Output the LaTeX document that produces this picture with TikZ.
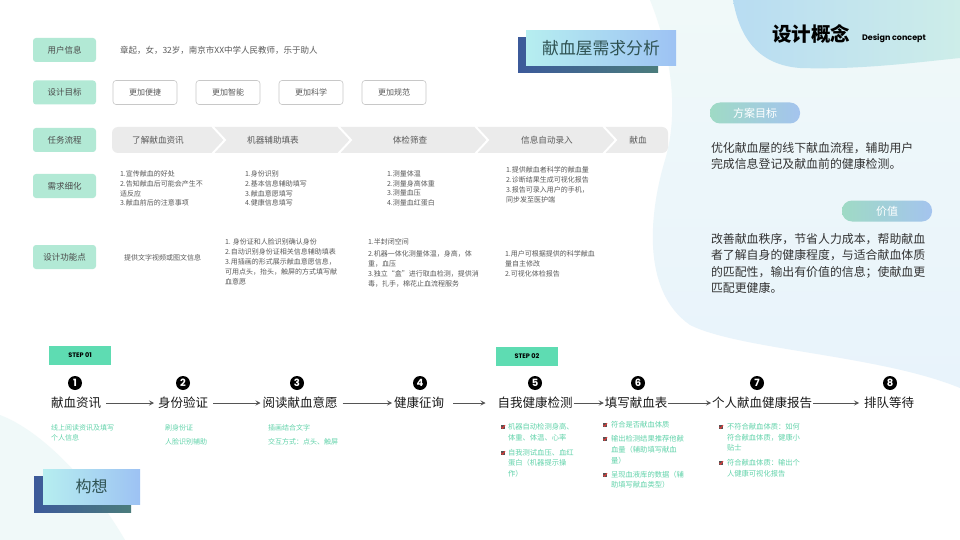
\documentclass[tikz,border=0pt]{standalone}
\usepackage{fontspec}
\setmainfont{Noto Sans CJK SC}
\newfontfamily\enfont{Poppins}
\usetikzlibrary{positioning, arrows.meta, calc}

\definecolor{tagGreen}{HTML}{B2E9D5}
\definecolor{tagText}{HTML}{4A4A4A}
\definecolor{bodyGray}{HTML}{5A5A5A}
\definecolor{goalLine}{HTML}{C8C8C8}
\definecolor{barGray}{HTML}{EBEBEB}
\definecolor{blobTop}{HTML}{F0F9F9}
\definecolor{blobBottom}{HTML}{E8F3FB}
\definecolor{blobLeft}{HTML}{B8DCF2}
\definecolor{blobRight}{HTML}{CDEDE9}
\definecolor{titleLeft}{HTML}{B6EEF0}
\definecolor{titleRight}{HTML}{9DC2F3}
\definecolor{shadowLeft}{HTML}{3C5A9A}
\definecolor{shadowRight}{HTML}{4B7C7C}
\definecolor{titleText}{HTML}{2F5252}
\definecolor{pillGreen}{HTML}{9FDAC5}
\definecolor{pillBlue}{HTML}{A4C4EE}
\definecolor{stepGreen}{HTML}{5EDCB2}
\definecolor{subGreen}{HTML}{62D3AA}
\definecolor{arrowGray}{HTML}{555555}
\definecolor{chkRed}{HTML}{E03A3A}

\tikzset{
  chk/.pic={
    \fill[arrowGray] (-2.4,-2.4) rectangle (2.4,2.4);
    \draw[chkRed, line width=0.9pt] (-1.6,-0.1) -- (-0.4,1.3) -- (2.0,-1.8);
  }
}

\begin{document}
\begin{tikzpicture}[
    x=1pt, y=-1pt,
    every node/.style={inner sep=0pt, outer sep=0pt},
    tag/.style={rounded corners=3pt, fill=tagGreen, minimum width=63pt, minimum height=24pt, font=\fontsize{8.5}{10}\selectfont, text=tagText},
    goal/.style={rounded corners=3pt, draw=goalLine, line width=0.6pt, fill=white, minimum width=64pt, minimum height=24pt, font=\fontsize{8}{10}\selectfont, text=bodyGray},
    flowtxt/.style={font=\fontsize{8.6}{10}\selectfont, text=bodyGray},
    note/.style={anchor=north west, align=left, font=\fontsize{7}{9.7}\selectfont, text=bodyGray},
    para/.style={anchor=north west, align=left, font=\fontsize{11.9}{16.3}\selectfont, text=black!80},
    pill/.style={rounded corners=10pt, left color=pillGreen, right color=pillBlue, minimum width=90pt, minimum height=21pt, font=\fontsize{11}{12}\selectfont, text=white},
    stepbox/.style={fill=stepGreen, minimum width=62pt, minimum height=19pt, font=\enfont\bfseries\fontsize{6.5}{7}\selectfont},
    num/.style={circle, fill=black, text=white, minimum size=14pt, font=\enfont\bfseries\fontsize{10}{10}\selectfont},
    stepname/.style={font=\fontsize{12.5}{13}\selectfont, text=black!90, inner sep=1pt},
    sub/.style={anchor=north west, align=left, font=\fontsize{7}{9.5}\selectfont, text=subGreen},
    subb/.style={anchor=north west, align=left, font=\fontsize{7.3}{10.5}\selectfont, text=subGreen},
    flowarrow/.style={-{Stealth[length=5pt, width=5pt, inset=2pt]}, arrowGray, line width=0.9pt}
  ]

  \useasboundingbox (0,0) rectangle (960,540);
  \fill[white] (0,0) rectangle (960,540);

  % background shapes
  \shade[top color=blobTop, bottom color=blobBottom] (650,0) .. controls (670,50) and (680,110) .. (665,160)
    .. controls (650,210) and (640,290) .. (690,325) .. controls (740,350) and (880,355) .. (960,388) -- (960,0) -- cycle;
  \shade[left color=blobLeft, right color=blobRight] (733,0) .. controls (740,40) and (760,65) .. (800,68)
    .. controls (860,70) and (920,62) .. (960,58) -- (960,0) -- cycle;
  \fill[blobTop] (0,415) .. controls (40,430) and (90,480) .. (125,540) -- (0,540) -- cycle;

  % title
  \node[minimum width=140pt, minimum height=35pt, left color=shadowLeft, right color=shadowRight] (titleShadow) at (588,55.5) {};
  \node[minimum width=150pt, minimum height=35pt, left color=titleLeft, right color=titleRight, font=\fontsize{16.8}{17}\selectfont, text=titleText] (title) at (601,48.5) {献血屋需求分析};

  % row labels
  \node[tag] (uinfo) at (64.5,50) {用户信息};
  \node[tag] (goals) at (64.5,92.5) {设计目标};
  \node[tag] (flow) at (64.5,140) {任务流程};
  \node[tag] (needs) at (64.5,186) {需求细化};
  \node[tag] (funcs) at (64.5,257) {设计功能点};

  \node[anchor=west, font=\fontsize{8.5}{10}\selectfont, text=bodyGray] (uinfoTxt) at (120,50) {章起，女，32岁，南京市XX中学人民教师，乐于助人};

  % design goals
  \node[goal, right=17pt of goals] (g1) {更加便捷};
  \node[goal, right=19pt of g1] (g2) {更加智能};
  \node[goal, right=19pt of g2] (g3) {更加科学};
  \node[goal, right=19pt of g3] (g4) {更加规范};

  % task flow bar
  \fill[barGray, rounded corners=6pt] (112,127) rectangle (668,153);
  \foreach \x in {212,338,475,603}
    \draw[white, line width=2pt] (\x,126) -- (\x+13,140) -- (\x,154);
  \node[flowtxt] (f1) at (158,140) {了解献血资讯};
  \node[flowtxt] (f2) at (273,140) {机器辅助填表};
  \node[flowtxt] (f3) at (410,140) {体检筛查};
  \node[flowtxt] (f4) at (547,140) {信息自动录入};
  \node[flowtxt] (f5) at (638,140) {献血};

  % needs
  \node[note] (n1) at (120,170.7) {1.宣传献血的好处\\2.告知献血后可能会产生不\\适反应\\3.献血前后的注意事项};
  \node[note] (n2) at (245,170.7) {1.身份识别\\2.基本信息辅助填写\\3.献血意愿填写\\4.健康信息填写};
  \node[note] (n3) at (387,170.7) {1.测量体温\\2.测量身高体重\\3.测量血压\\4.测量血红蛋白};
  \node[note, font=\fontsize{7}{10}\selectfont] (n4) at (506,166.7) {1.提供献血者科学的献血量\\2.诊断结果生成可视化报告\\3.报告可录入用户的手机，\\同步发至医护端};

  % functions
  \node[note, anchor=west] (p1) at (124,258) {提供文字视频或图文信息};
  \node[note, font=\fontsize{7}{10.1}\selectfont] (p2) at (225,238.5) {1. 身份证和人脸识别确认身份\\2.自动识别身份证相关信息辅助填表\\3.用插画的形式展示献血意愿信息，\\可用点头，抬头，触屏的方式填写献\\血意愿};
  \node[note, font=\fontsize{7}{10}\selectfont] (p3) at (368,238.5) {1.半封闭空间\\[2.5pt]2.机器一体化测量体温，身高，体\\重，血压\\3.独立“盒”进行取血检测，提供消\\毒，扎手，棉花止血流程服务};
  \node[note, font=\fontsize{7}{10}\selectfont] (p4) at (505,250.8) {1.用户可根据提供的科学献血\\量自主修改\\2.可视化体检报告};

  % design concept
  \node[font=\fontsize{19.5}{20}\selectfont\bfseries] (concept) at (811,34) {设计概念};
  \node[anchor=west, font=\enfont\bfseries\fontsize{8}{9}\selectfont] (conceptEn) at (862,38) {Design concept};
  \node[pill] (aimPill) at (755,113) {方案目标};
  \node[para] (aimTxt) at (711,142.5) {优化献血屋的线下献血流程，辅助用户\\完成信息登记及献血前的健康检测。};
  \node[pill] (valuePill) at (887,211) {价值};
  \node[para] (valueTxt) at (711,233.5) {改善献血秩序，节省人力成本，帮助献血\\者了解自身的健康程度，与适合献血体质\\的匹配性，输出有价值的信息；使献血更\\匹配更健康。};

  % steps
  \node[stepbox] (step1) at (80,355.5) {STEP 01};
  \node[stepbox] (step2) at (527,356.5) {STEP 02};

  \node[num] (c1) at (75,383) {1};
  \node[num] (c2) at (183,383) {2};
  \node[num] (c3) at (297,383) {3};
  \node[num] (c4) at (420,383) {4};
  \node[num] (c5) at (535,383) {5};
  \node[num] (c6) at (638,383) {6};
  \node[num] (c7) at (757,383) {7};
  \node[num] (c8) at (890,383) {8};

  \node[stepname] (s1) at (76,403) {献血资讯};
  \node[stepname] (s2) at (183,403) {身份验证};
  \node[stepname] (s3) at (300,403) {阅读献血意愿};
  \node[stepname] (s4) at (419,403) {健康征询};
  \node[stepname] (s5) at (535,403) {自我健康检测};
  \node[stepname] (s6) at (636,403) {填写献血表};
  \node[stepname] (s7) at (762,403) {个人献血健康报告};
  \node[stepname] (s8) at (889,403) {排队等待};

  \draw[flowarrow, shorten <=4pt, shorten >=3pt] (s1) -- (s2);
  \draw[flowarrow, shorten <=4pt, shorten >=1pt] (s2) -- (s3);
  \draw[flowarrow, shorten <=4pt, shorten >=1pt] (s3) -- (s4);
  \draw[flowarrow, shorten <=8pt, shorten >=11pt] (s4) -- (s5);
  \draw[flowarrow] (s5) -- (s6);
  \draw[flowarrow] (s6) -- (s7);
  \draw[flowarrow, shorten >=4pt] (s7) -- (s8);

  % step details
  \node[sub] (d1) at (51,424.8) {线上阅读资讯及填写\\个人信息};
  \node[sub] (d2) at (165,424.8) {刷身份证\\[4.5pt]人脸识别辅助};
  \node[sub] (d3) at (268,424.8) {插画结合文字\\[4.5pt]交互方式：点头、触屏};
  \node[subb] (d5) at (508,423.6) {机器自动检测身高、\\体重、体温、心率\\[4.5pt]自我测试血压、血红\\蛋白（机器提示操\\作）};
  \node[subb, font=\fontsize{7.3}{10.7}\selectfont] (d6) at (611,421.6) {符合是否献血体质\\[3.3pt]输出检测结果推荐他献\\血量（辅助填写献血\\量）\\[3.3pt]呈现血液库的数据（辅\\助填写献血类型）};
  \node[subb] (d7) at (727,423.6) {不符合献血体质：如何\\符合献血体质，健康小\\贴士\\[4.5pt]符合献血体质：输出个\\人健康可视化报告};

  \pic at (503,427) {chk};
  \pic at (503,453) {chk};
  \pic at (605,425) {chk};
  \pic at (605,439) {chk};
  \pic at (605,475) {chk};
  \pic at (721,427) {chk};
  \pic at (721,463) {chk};

  % idea box
  \node[minimum width=97pt, minimum height=36pt, left color=shadowLeft, right color=shadowRight] (ideaShadow) at (82.5,494) {};
  \node[minimum width=97pt, minimum height=35pt, left color=titleLeft, right color=titleRight, font=\fontsize{16}{16}\selectfont, text=titleText] (idea) at (91.5,486.5) {构想};

\end{tikzpicture}
\end{document}
